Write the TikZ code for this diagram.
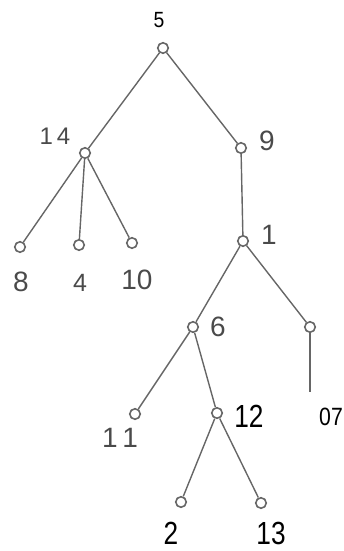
\documentclass[tikz,border=0pt]{standalone}
\usepackage{fontspec}
\setmainfont{Liberation Sans}
\usepackage{graphicx}
\definecolor{edgegray}{HTML}{666666}
\definecolor{labgray}{HTML}{4A4A4A}
\begin{document}
\begin{tikzpicture}[x=1pt,y=-1pt,
  vert/.style={circle,draw=edgegray,line width=1.6pt,fill=white,minimum size=10.5pt,inner sep=0pt},
  edge/.style={draw=edgegray,line width=1.4pt},
  glab/.style={text=labgray,font=\fontsize{28}{28}\selectfont,inner sep=0pt},
  blab/.style={text=black,inner sep=0pt,anchor=base}]
\path[use as bounding box] (0,0) rectangle (343,551);
% vertices
\node[vert] (n5)  at (163,48) {};
\node[vert] (n14) at (85,153) {};
\node[vert] (n9)  at (241,148) {};
\node[vert] (n8)  at (20,247) {};
\node[vert] (n4)  at (79,245) {};
\node[vert] (n10) at (132,243) {};
\node[vert] (n1)  at (243,241) {};
\node[vert] (n6)  at (193,327) {};
\node[vert] (n07) at (310,327) {};
\node[vert] (n11) at (135,414) {};
\node[vert] (n12) at (217,413) {};
\node[vert] (n2)  at (181,502) {};
\node[vert] (n13) at (261,503) {};
\coordinate (e07) at (310,392);
% edges
\draw[edge] (n5) -- (n14);
\draw[edge] (n5) -- (n9);
\draw[edge] (n14) -- (n8);
\draw[edge] (n14) -- (n4);
\draw[edge] (n14) -- (n10);
\draw[edge] (n9) -- (n1);
\draw[edge] (n1) -- (n6);
\draw[edge] (n1) -- (n07);
\draw[edge] (n07) -- (e07);
\draw[edge] (n6) -- (n11);
\draw[edge] (n6) -- (n12);
\draw[edge] (n12) -- (n2);
\draw[edge] (n12) -- (n13);
% labels
\node[blab,font=\fontsize{22}{22}\selectfont] (l5) at (159,28) {\scalebox{0.88}[1]{5}};
\node[glab,font=\fontsize{24}{24}\selectfont] (l14) at (55,136) {1\,4};
\node[glab] (l9) at (267,141) {9};
\node[glab] (l8) at (21,282) {8};
\node[glab,font=\fontsize{25}{25}\selectfont] (l4) at (80,283) {4};
\node[glab] (l10) at (137,280) {10};
\node[glab] (l1) at (269,235) {1};
\node[glab] (l6) at (218,327) {6};
\node[glab] (l11) at (120,438) {1\,1};
\node[blab,font=\fontsize{32}{32}\selectfont] (l12) at (249,427) {\scalebox{0.82}[1]{12}};
\node[blab,font=\fontsize{25}{25}\selectfont] (l07) at (331,425) {\scalebox{0.85}[1]{07}};
\node[blab,font=\fontsize{32}{32}\selectfont] (l2) at (171,544) {\scalebox{0.82}[1]{2}};
\node[blab,font=\fontsize{32}{32}\selectfont] (l13) at (271,544) {\scalebox{0.82}[1]{13}};
\end{tikzpicture}
\end{document}
